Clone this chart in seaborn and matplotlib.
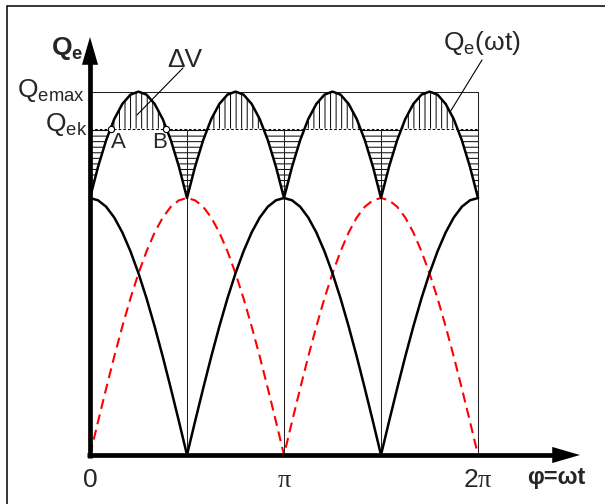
import numpy as np
import pandas as pd
import matplotlib
matplotlib.use("Agg")
import matplotlib.pyplot as plt
import seaborn as sns
from matplotlib.patches import Rectangle

# Crank angle samples over one revolution, step pi/24
phi = np.linspace(0.0, 2.0 * np.pi, 49)

# Delivery of the first piston (red, dashed)
q_piston1 = [0.000, 0.131, 0.259, 0.383, 0.500, 0.609, 0.707, 0.793, 0.866,
             0.924, 0.966, 0.991, 1.000, 0.991, 0.966, 0.924, 0.866, 0.793,
             0.707, 0.609, 0.500, 0.383, 0.259, 0.131, 0.000,
             0.131, 0.259, 0.383, 0.500, 0.609, 0.707, 0.793, 0.866,
             0.924, 0.966, 0.991, 1.000, 0.991, 0.966, 0.924, 0.866, 0.793,
             0.707, 0.609, 0.500, 0.383, 0.259, 0.131, 0.000]
# Delivery of the second piston (black), a quarter turn later
q_piston2 = [1.000, 0.991, 0.966, 0.924, 0.866, 0.793, 0.707, 0.609, 0.500,
             0.383, 0.259, 0.131, 0.000, 0.131, 0.259, 0.383, 0.500, 0.609,
             0.707, 0.793, 0.866, 0.924, 0.966, 0.991, 1.000,
             0.991, 0.966, 0.924, 0.866, 0.793, 0.707, 0.609, 0.500,
             0.383, 0.259, 0.131, 0.000, 0.131, 0.259, 0.383, 0.500, 0.609,
             0.707, 0.793, 0.866, 0.924, 0.966, 0.991, 1.000]
# Mean level of the air vessel
q_ek = 1.27

# Axis marks
tick_pos = [0.0, np.pi, 2.0 * np.pi]
tick_txt = ["0", r"$\mathsf{π}$", r"$\mathrm{2}\mathsf{π}$"]
grid_pos = [np.pi / 2, np.pi, 3 * np.pi / 2]

df = pd.DataFrame({"phi": phi, "q1": q_piston1, "q2": q_piston2})
df["qe"] = df["q1"] + df["q2"]
q_emax = df["qe"].max()

# Points A and B where the total delivery crosses the mean level
rise = df.iloc[0:7]
fall = df.iloc[6:13].iloc[::-1]
phi_A = np.interp(q_ek, rise["qe"], rise["phi"])
phi_B = np.interp(q_ek, fall["qe"], fall["phi"])

# ---- style -------------------------------------------------------------
sns.set_theme(style="white")
plt.rcParams["font.family"] = ["Liberation Sans", "DejaVu Sans"]
plt.rcParams["mathtext.fontset"] = "custom"
plt.rcParams["mathtext.rm"] = "Liberation Sans"
plt.rcParams["mathtext.bf"] = "Liberation Sans:bold"
plt.rcParams["mathtext.it"] = "Liberation Sans:italic"
plt.rcParams["mathtext.sf"] = "Liberation Serif"   # serif pi for the axis marks
plt.rcParams["hatch.linewidth"] = 0.7
plt.rcParams["hatch.color"] = "black"

W, H = 605, 504
X0, X2PI, Y0, Y1 = 90, 478, 455, 198          # pixel layout of the diagram
sx = 2 * np.pi / (X2PI - X0)
sy = 1.0 / (Y0 - Y1)

fig = plt.figure(figsize=(W / 100, H / 100), dpi=100)
fig.patch.set_facecolor("white")
ax = fig.add_axes([0, 0, 1, 1])

# Frame around the drawing
fig.add_artist(Rectangle((7 / W, -0.5), 2.0, 0.5 + 1 - 6 / H,
                         transform=fig.transFigure, fill=False,
                         edgecolor="black", lw=1.1))

# Hatched volumes above and below the mean level
ax.fill_between(df["phi"], q_ek, df["qe"], where=df["qe"] >= q_ek,
                interpolate=True, facecolor="none", edgecolor="black",
                hatch="|||", lw=0, zorder=1)
ax.fill_between(df["phi"], df["qe"], q_ek, where=df["qe"] <= q_ek,
                interpolate=True, facecolor="none", edgecolor="black",
                hatch="---", lw=0, zorder=1)

# Thin construction lines
thin = dict(color="#222222", lw=0.75, zorder=2)
ax.plot([0, 2 * np.pi], [q_emax, q_emax], **thin)
ax.plot([2 * np.pi, 2 * np.pi], [0, q_emax], **thin)
ax.vlines(grid_pos, 0, q_ek, **thin)
ax.plot([0, 2 * np.pi], [q_ek, q_ek], color="black", lw=0.75,
        linestyle=(0, (2.5, 2.0)), zorder=2)

# Delivery curves
sns.lineplot(data=df, x="phi", y="q1", ax=ax, color="#ff0000", lw=1.5,
             linestyle=(0, (4.8, 2.8)), estimator=None, sort=False, zorder=3)
sns.lineplot(data=df, x="phi", y="q2", ax=ax, color="black", lw=1.8,
             estimator=None, sort=False, zorder=3)
sns.lineplot(data=df, x="phi", y="qe", ax=ax, color="black", lw=1.8,
             estimator=None, sort=False, zorder=3)
ax.set_xlim(-X0 * sx, (W - X0) * sx)
ax.set_ylim((Y0 - H) * sy, Y0 * sy)
ax.axis("off")

# Points A and B
ax.plot([phi_A, phi_B], [q_ek, q_ek], "o", ms=4.5, mfc="white",
        mec="black", mew=0.8, zorder=5)

# Coordinate axes with arrow heads
x_tip, y_tip = (580 - X0) * sx, (Y0 - 37) * sy
ax.plot([-3 * sx, x_tip - 24 * sx], [0, 0], color="black", lw=3.4,
        solid_capstyle="butt", zorder=4)
ax.plot([0, 0], [-3 * sy, y_tip - 24 * sy], color="black", lw=3.4,
        solid_capstyle="butt", zorder=4)
head = dict(arrowstyle="-|>,head_length=2.0,head_width=0.58",
            mutation_scale=10, color="black", lw=0, shrinkA=0, shrinkB=0)
ax.annotate("", xy=(x_tip, 0), xytext=(x_tip - 30 * sx, 0),
            arrowprops=head, zorder=4)
ax.annotate("", xy=(0, y_tip), xytext=(0, y_tip - 30 * sy),
            arrowprops=head, zorder=4)

# Labels
ax.text(-7 * sx, 1.556, r"$\mathbf{Q}_\mathbf{e}$", fontsize=19,
        ha="right", va="baseline", zorder=6)
ax.text(-73 * sx, 1.393, r"$\mathrm{Q}_\mathrm{emax}$", fontsize=19,
        ha="left", va="baseline", zorder=6)
ax.text(-45 * sx, 1.261, r"$\mathrm{Q}_\mathrm{ek}$", fontsize=19,
        ha="left", va="baseline", zorder=6)
ax.text(phi_A + 8 * sx, 1.195, "A", fontsize=16, ha="center",
        va="baseline", zorder=6)
ax.text(phi_B - 7 * sx, 1.195, "B", fontsize=16, ha="center",
        va="baseline", zorder=6)
ax.text(1.538, 1.510, "ΔV", fontsize=19, ha="center", va="baseline",
        zorder=6)
ax.annotate("", xy=(0.761, 1.323), xytext=(1.506, 1.506),
            arrowprops=dict(arrowstyle="-", color="black", lw=0.8,
                            shrinkA=0, shrinkB=0), zorder=6)
ax.text(5.717, 1.576, r"$\mathrm{Q}_\mathrm{e}\mathrm{(ωt)}$", fontsize=19,
        ha="left", va="baseline", zorder=6)
x_lead = 5.83
ax.annotate("", xy=(x_lead, np.interp(x_lead, df["phi"], df["qe"])),
            xytext=(6.348, 1.537),
            arrowprops=dict(arrowstyle="-", color="black", lw=0.8,
                            shrinkA=0, shrinkB=0), zorder=6)

for p, t in zip(tick_pos, tick_txt):
    ax.text(p, -0.125, t, fontsize=19, ha="center", va="baseline")
ax.text((527 - X0) * sx, -0.113, "φ=ωt", fontsize=17, fontweight="bold",
        ha="left", va="baseline")

fig.savefig("out.png", dpi=100, facecolor="white")
